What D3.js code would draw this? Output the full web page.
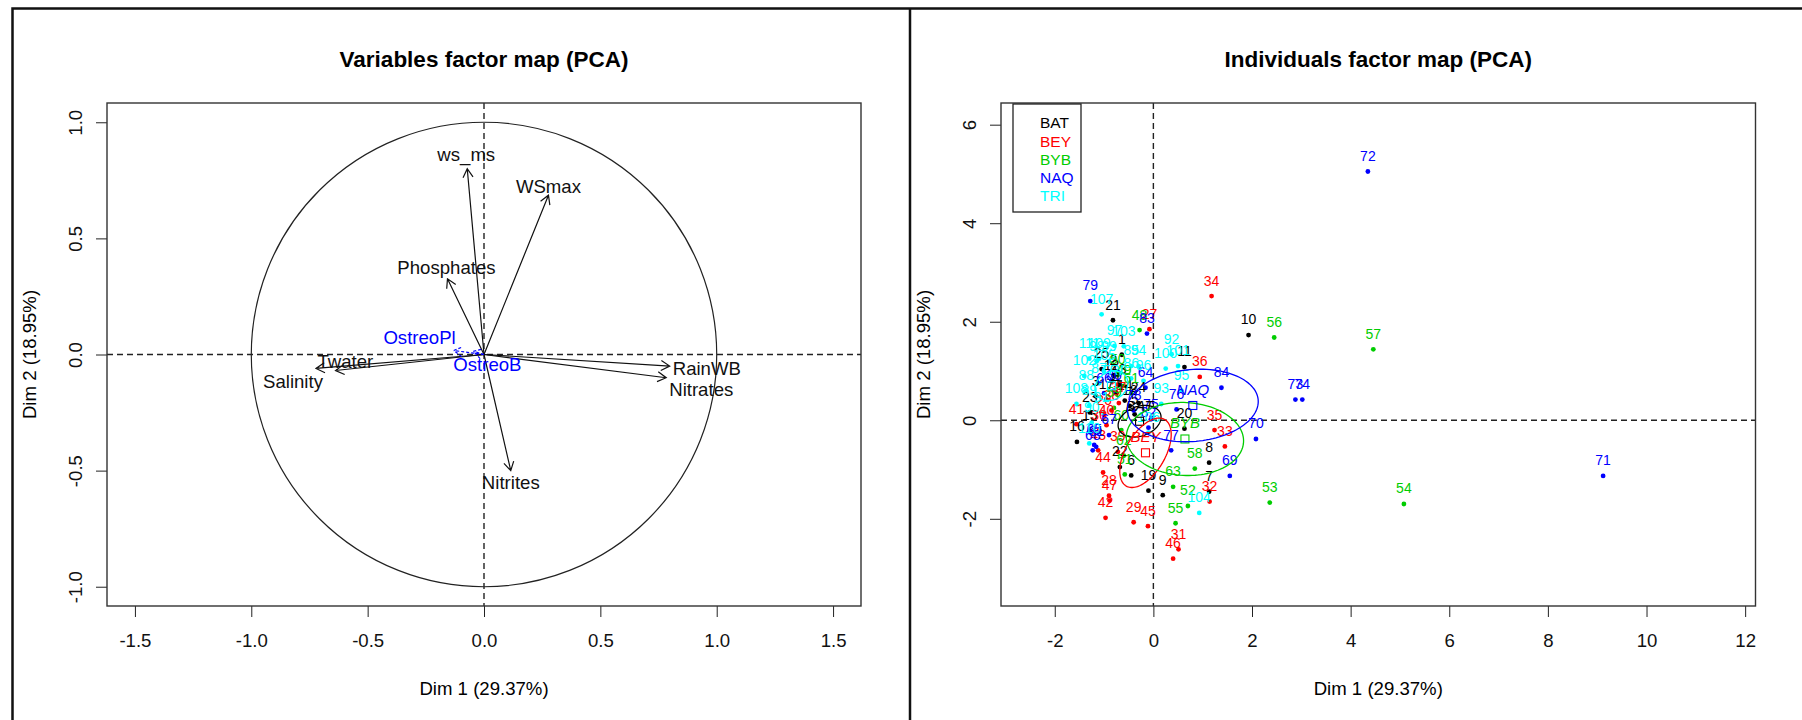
<!DOCTYPE html>
<html>
<head>
<meta charset="utf-8">
<script src="https://cdn.jsdelivr.net/npm/d3@7"></script>
<style>
  body { margin: 0; background: #fff; }
  svg text { font-family: "Liberation Sans", Arial, sans-serif; }
</style>
</head>
<body>
<svg id="chart" width="1802" height="720"></svg>
<script>
// PCA FACTOR MAPS //

// variables (active) - coordinates on Dim 1 / Dim 2
const varNames = ["ws_ms", "WSmax", "Phosphates", "Nitrites", "RainWB", "Nitrates", "Twater", "Salinity"];
const varDim1 = [-0.072, 0.277, -0.157, 0.115, 0.798, 0.783, -0.638, -0.722];
const varDim2 = [0.800, 0.686, 0.326, -0.500, -0.050, -0.100, -0.069, -0.060];

// supplementary variables
const supNames = ["OstreoPl", "OstreoB"];
const supDim1 = [-0.130, -0.046];
const supDim2 = [0.017, 0.014];

const varTicksX = [-1.5, -1, -0.5, 0, 0.5, 1, 1.5];
const varTicksY = [-1, -0.5, 0, 0.5, 1];

// individuals: [id, dim1, dim2] per site
const indBAT = [[1,-0.64,1.33],[2,-0.81,0.90],[3,-1.17,0.49],[4,-0.75,0.55],[5,-0.38,0.12],[6,-0.45,-1.12],
  [7,1.13,-1.45],[8,1.13,-0.86],[9,0.19,-1.52],[10,1.93,1.73],[11,0.63,1.08],[12,-0.85,0.80],[13,-0.70,0.72],
  [14,-0.58,0.40],[15,-1.29,-0.21],[16,-1.55,-0.44],[17,-0.95,0.42],[18,-0.48,0.29],[19,-0.10,-1.43],
  [20,0.63,-0.17],[21,-0.82,2.03],[22,-0.68,-0.95],[23,-1.29,0.16],[24,-0.30,0.35],[25,-1.05,1.04]];
const indBEY = [[26,-1.00,0.10],[27,-0.08,1.85],[28,-0.90,-1.53],[29,-0.40,-2.07],[30,-1.10,-0.20],[31,0.51,-2.62],
  [32,1.14,-1.65],[33,1.45,-0.53],[34,1.18,2.52],[35,1.24,-0.20],[36,0.94,0.88],[37,-0.70,0.35],[38,-0.85,0.20],
  [39,-0.72,-0.64],[40,-0.95,-0.10],[41,-1.56,-0.08],[42,-0.97,-1.98],[43,-1.12,-0.61],[44,-1.02,-1.06],
  [45,-0.11,-2.15],[46,0.40,-2.81],[47,-0.89,-1.63]];
const indBYB = [[48,-0.28,1.83],[49,-0.60,0.70],[50,-0.72,0.92],[51,-0.58,-1.10],[52,0.70,-1.74],[53,2.36,-1.67],
  [54,5.08,-1.70],[55,0.45,-2.09],[56,2.45,1.68],[57,4.46,1.44],[58,0.84,-0.98],[59,-0.80,0.25],[60,-0.65,-0.20],
  [61,-0.45,0.55],[62,-0.60,-0.72],[63,0.40,-1.35]];
const indNAQ = [[64,-0.16,0.66],[65,-1.20,-0.50],[66,-1.00,0.55],[67,-0.90,-0.30],[68,-1.23,-0.61],[69,1.55,-1.13],
  [70,2.08,-0.38],[71,9.12,-1.13],[72,4.35,5.05],[73,2.88,0.42],[74,3.02,0.42],[75,-0.05,0.02],[76,0.47,0.22],
  [77,0.36,-0.61],[78,-0.40,0.20],[79,-1.28,2.42],[80,-0.80,0.60],[81,-1.16,-0.54],[82,-0.10,-0.15],
  [83,-0.13,1.76],[84,1.38,0.66]];
const indTRI = [[85,-0.45,1.10],[86,-0.45,0.85],[87,-1.10,0.75],[88,-1.36,0.60],[89,-1.30,0.30],[90,-1.25,-0.05],
  [91,-1.05,0.15],[92,0.37,1.34],[93,0.16,0.33],[94,-0.30,1.10],[95,0.57,0.60],[96,-0.20,0.80],[97,-0.79,1.51],
  [98,-1.15,1.20],[99,-0.90,1.20],[100,0.25,1.05],[101,0.50,1.10],[102,-1.40,0.90],[103,-0.60,1.50],
  [104,0.93,-1.88],[105,-1.00,1.00],[106,-0.10,-0.25],[107,-1.05,2.15],[108,-1.56,0.33],[109,-1.10,1.25],
  [110,-1.30,-0.47],[111,-1.30,1.25]];

const groups = ["BAT", "BEY", "BYB", "NAQ", "TRI"];
// confidence ellipses: centre, semi axes, rotation (deg)
const ellCx = [-0.28, -0.16, 0.64, 0.80, -0.85];
const ellCy = [-0.02, -0.66, -0.38, 0.30, 0.70];
const ellA = [0.45, 0.78, 1.19, 1.33, 0.35];
const ellB = [0.30, 0.40, 0.74, 0.73, 0.28];
const ellAngle = [20, 60, -3, 5, 30];

const indTicksX = [-2, 0, 2, 4, 6, 8, 10, 12];
const indTicksY = [-2, 0, 2, 4, 6];

// styles
const groupColors = ["#000000", "#ff0000", "#00cd00", "#0000ff", "#00ffff"];
const supColor = "#0000ff";
const font = 18.6;

// label placement for the variable map: [anchor, dx, dy]
const labelNudge = {
  ws_ms: ["middle", -1, -14], WSmax: ["middle", 0, -9], Phosphates: ["middle", -1, -11],
  Nitrites: ["middle", 0, 12], RainWB: ["start", 3, 2], Nitrates: ["start", 3, 12],
  Twater: ["start", -18, -9], Salinity: ["end", 7, 13],
  OstreoPl: ["end", 2, -13], OstreoB: ["start", -20, 13]
};

const svg = d3.select("#chart");
const plotTop = 103, plotBottom = 606;

// panel frames
svg.append("path")
  .attr("d", "M12.5,720 V8.5 H1802 M910,8.5 V720")
  .attr("fill", "none").attr("stroke", "#111").attr("stroke-width", 2.5);

function frame(x, y, title) {
  const g = svg.append("g");
  const [x0, x1] = x.range();
  g.append("text").attr("x", (x0 + x1) / 2).attr("y", 58.8).attr("dy", "0.35em")
    .attr("text-anchor", "middle").attr("font-weight", "bold").attr("font-size", 22.5)
    .text(title);
  g.append("text").attr("x", (x0 + x1) / 2).attr("y", 688.7).attr("dy", "0.35em")
    .attr("text-anchor", "middle").attr("font-size", font).text("Dim 1 (29.37%)");
  g.append("text").attr("transform", `translate(${x0 - 78},${(plotTop + plotBottom) / 2}) rotate(-90)`)
    .attr("dy", "0.35em").attr("text-anchor", "middle").attr("font-size", font).text("Dim 2 (18.95%)");
  return g;
}

function axes(g, x, y, fmt, ticksX, ticksY) {
  const ax = g.append("g").attr("transform", `translate(0,${plotBottom})`)
    .call(d3.axisBottom(x).tickValues(ticksX).tickFormat(fmt).tickSize(11).tickPadding(17));
  const ay = g.append("g").attr("transform", `translate(${x.range()[0]},0)`)
    .call(d3.axisLeft(y).tickValues(ticksY).tickFormat(fmt).tickSize(11));
  [ax, ay].forEach(a => {
    a.select(".domain").remove();
    a.selectAll("line").attr("stroke", "#222");
    a.selectAll("text").attr("font-size", font).attr("font-family", "Liberation Sans, Arial, sans-serif").attr("fill", "#111");
  });
  ay.selectAll("text").attr("x", null).attr("dy", "0.35em").attr("text-anchor", "middle")
    .attr("transform", "translate(-32,0) rotate(-90)");
  // zero lines
  g.append("line").attr("x1", x.range()[0]).attr("x2", x.range()[1]).attr("y1", y(0)).attr("y2", y(0))
    .attr("stroke", "#222").attr("stroke-width", 1.4).attr("stroke-dasharray", "6,4");
  g.append("line").attr("x1", x(0)).attr("x2", x(0)).attr("y1", plotTop).attr("y2", plotBottom)
    .attr("stroke", "#222").attr("stroke-width", 1.4).attr("stroke-dasharray", "6,4");
  // box
  g.append("rect").attr("x", x.range()[0]).attr("y", plotTop)
    .attr("width", x.range()[1] - x.range()[0]).attr("height", plotBottom - plotTop)
    .attr("fill", "none").attr("stroke", "#333").attr("stroke-width", 1.4);
}

function fmtR(d) { return (d < 0 ? "-" : "") + Math.abs(d).toFixed(1); }
function fmtInt(d) { return (d < 0 ? "-" : "") + Math.abs(d); }

// VARIABLES FACTOR MAP
const xL = d3.scaleLinear().domain([-1.62, 1.62]).range([107, 861]);
const yL = d3.scaleLinear().domain([-1.083, 1.083]).range([plotBottom, plotTop]);
const gL = frame(xL, yL, "Variables factor map (PCA)");
axes(gL, xL, yL, fmtR, varTicksX, varTicksY);

// unit circle
gL.append("ellipse").attr("cx", xL(0)).attr("cy", yL(0))
  .attr("rx", xL(1) - xL(0)).attr("ry", yL(0) - yL(1))
  .attr("fill", "none").attr("stroke", "#222").attr("stroke-width", 1.2);

function arrow(g, x1, y1, color, dashed) {
  const px = xL(x1), py = yL(y1), ox = xL(0), oy = yL(0);
  const ang = Math.atan2(oy - py, ox - px);
  const L = 10, a = Math.PI / 6;
  const line = g.append("path")
    .attr("d", `M${ox},${oy} L${px},${py} M${px + L * Math.cos(ang + a)},${py + L * Math.sin(ang + a)} L${px},${py} L${px + L * Math.cos(ang - a)},${py + L * Math.sin(ang - a)}`)
    .attr("fill", "none").attr("stroke", color).attr("stroke-width", 1.2);
  if (dashed) line.attr("stroke-dasharray", "3,2");
}

function varLabel(g, name, x1, y1, color) {
  const n = labelNudge[name] || ["middle", 0, -11];
  g.append("text").attr("x", xL(x1) + n[1]).attr("y", yL(y1) + n[2]).attr("dy", "0.35em")
    .attr("text-anchor", n[0]).attr("font-size", font).attr("fill", color).text(name);
}

varNames.forEach((n, i) => arrow(gL, varDim1[i], varDim2[i], "#111", false));
supNames.forEach((n, i) => arrow(gL, supDim1[i], supDim2[i], supColor, true));
varNames.forEach((n, i) => varLabel(gL, n, varDim1[i], varDim2[i], "#111"));
supNames.forEach((n, i) => varLabel(gL, n, supDim1[i], supDim2[i], supColor));

// INDIVIDUALS FACTOR MAP
const xR = d3.scaleLinear().domain([-3.09, 12.21]).range([1001, 1755.5]);
const yR = d3.scaleLinear().domain([-3.77, 6.44]).range([plotBottom, plotTop]);
const gR = frame(xR, yR, "Individuals factor map (PCA)");
axes(gR, xR, yR, fmtInt, indTicksX, indTicksY);

const indAll = [indBAT, indBEY, indBYB, indNAQ, indTRI];

// points
indAll.forEach((grp, gi) => {
  gR.append("g").selectAll("circle").data(grp).join("circle")
    .attr("cx", d => xR(d[1])).attr("cy", d => yR(d[2])).attr("r", 2.4)
    .attr("fill", groupColors[gi]);
});
// labels
indAll.forEach((grp, gi) => {
  gR.append("g").selectAll("text").data(grp).join("text")
    .attr("x", d => xR(d[1])).attr("y", d => yR(d[2]) - 15.5).attr("dy", "0.35em")
    .attr("text-anchor", "middle").attr("font-size", 14).attr("fill", groupColors[gi])
    .text(d => d[0]);
});

// confidence ellipses around group centres
const tSteps = d3.range(0, 2 * Math.PI + 0.01, Math.PI / 60);
groups.forEach((name, gi) => {
  const th = ellAngle[gi] * Math.PI / 180;
  const pts = tSteps.map(t => [
    ellCx[gi] + ellA[gi] * Math.cos(th) * Math.cos(t) - ellB[gi] * Math.sin(th) * Math.sin(t),
    ellCy[gi] + ellA[gi] * Math.sin(th) * Math.cos(t) + ellB[gi] * Math.cos(th) * Math.sin(t)
  ]);
  gR.append("path").datum(pts)
    .attr("d", d3.line().x(d => xR(d[0])).y(d => yR(d[1])))
    .attr("fill", "none").attr("stroke", groupColors[gi]).attr("stroke-width", 1.3);
  gR.append("rect").attr("x", xR(ellCx[gi]) - 4).attr("y", yR(ellCy[gi]) - 4)
    .attr("width", 8).attr("height", 8).attr("fill", "none")
    .attr("stroke", groupColors[gi]).attr("stroke-width", 1.1);
  gR.append("text").attr("x", xR(ellCx[gi])).attr("y", yR(ellCy[gi]) - 16).attr("dy", "0.35em")
    .attr("text-anchor", "middle").attr("font-size", 15).attr("font-style", "italic")
    .attr("fill", groupColors[gi]).text(name);
});

// legend
const leg = gR.append("g");
leg.append("rect").attr("x", 1013).attr("y", 104).attr("width", 68).attr("height", 108)
  .attr("fill", "#fff").attr("stroke", "#222").attr("stroke-width", 1.3);
leg.selectAll("text").data(groups).join("text")
  .attr("x", 1040).attr("y", (d, i) => 123 + i * 18.2).attr("dy", "0.35em")
  .attr("font-size", 15.5).attr("fill", (d, i) => groupColors[i]).text(d => d);
</script>
</body>
</html>
